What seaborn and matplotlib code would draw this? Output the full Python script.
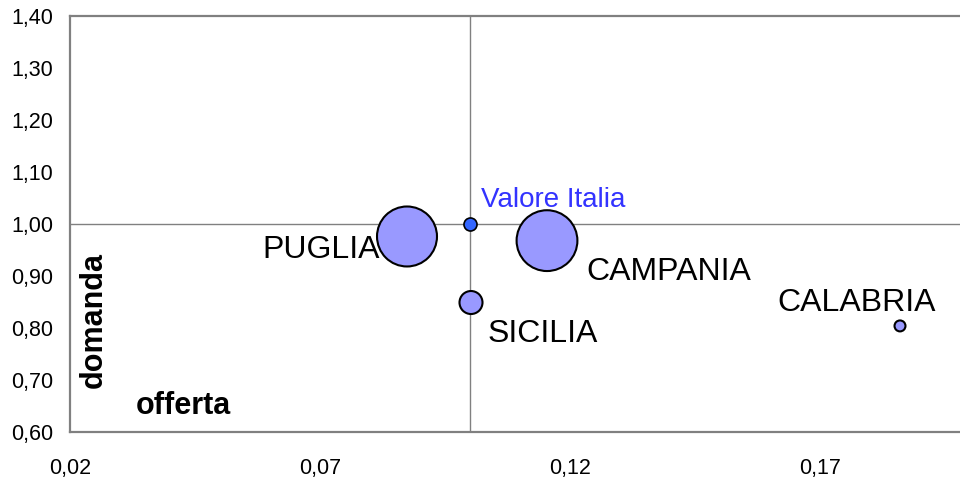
import matplotlib
matplotlib.use("Agg")
import matplotlib.pyplot as plt
import pandas as pd
import seaborn as sns

# Data
regioni = ["PUGLIA", "CAMPANIA", "SICILIA", "CALABRIA"]
offerta = [0.0874, 0.1154, 0.1002, 0.186]
domanda = [0.976, 0.968, 0.849, 0.804]
peso = [3.6, 3.7, 0.53, 0.12]

italia_x = [0.100]
italia_y = [1.000]
italia_peso = [0.17]

x_ticks = [0.02, 0.07, 0.12, 0.17]
y_ticks = [0.60, 0.70, 0.80, 0.90, 1.00, 1.10, 1.20, 1.30, 1.40]

df = pd.DataFrame({"regione": regioni, "offerta": offerta, "domanda": domanda, "peso": peso})
df_it = pd.DataFrame({"offerta": italia_x, "domanda": italia_y, "peso": italia_peso})

sns.set_style("white")
plt.rcParams["font.family"] = ["Liberation Sans", "DejaVu Sans"]
plt.rcParams["text.color"] = "black"

fig = plt.figure(figsize=(9.6, 4.83), dpi=100)
ax = fig.add_axes([70 / 960, 51 / 483, 890 / 960, 416 / 483])

# crossing lines at the Italian value
ax.axvline(0.10, color="#808080", lw=1, zorder=1)
ax.axhline(1.00, color="#808080", lw=1, zorder=1)

sns.scatterplot(data=df, x="offerta", y="domanda", size="peso", sizes=(0, 2072), size_norm=(0, 4),
                color="#9999FF", edgecolor="black", linewidth=1.5, legend=False, ax=ax, zorder=3)
sns.scatterplot(data=df_it, x="offerta", y="domanda", size="peso", sizes=(0, 2072), size_norm=(0, 4),
                color="#3366FF", edgecolor="black", linewidth=1.2, legend=False, ax=ax, zorder=3)

# labels next to bubbles (offsets in pixels)
offsets = {"PUGLIA": (-27, -14, "right"), "CAMPANIA": (39, -31, "left"),
           "SICILIA": (17, -31, "left"), "CALABRIA": (-43, 23, "center")}
for r, x, y in zip(regioni, offerta, domanda):
    dx, dy, ha = offsets[r]
    ax.annotate(r, (x, y), xytext=(dx, dy), textcoords="offset pixels",
                ha=ha, va="center", fontsize=23, color="black")
ax.annotate("Valore Italia", (italia_x[0], italia_y[0]), xytext=(11, 24), textcoords="offset pixels",
            ha="left", va="center", fontsize=20, color="#3333FF")

ax.text(0.0264, 0.269, "domanda", transform=ax.transAxes, rotation=90, ha="center", va="center",
        fontsize=22, fontweight="bold", color="black")
ax.text(0.127, 0.0625, "offerta", transform=ax.transAxes, ha="center", va="center",
        fontsize=22, fontweight="bold", color="black")

ax.set_xlim(0.02, 0.198)
ax.set_ylim(0.60, 1.40)
ax.set_xticks(x_ticks)
ax.set_yticks(y_ticks)
ax.set_xticklabels([f"{v:.2f}".replace(".", ",") for v in x_ticks])
ax.set_yticklabels([f"{v:.2f}".replace(".", ",") for v in y_ticks])
ax.tick_params(axis="both", length=0, labelsize=15.5, labelcolor="black")
ax.tick_params(axis="x", pad=19)
ax.tick_params(axis="y", pad=12)
ax.set_xlabel("")
ax.set_ylabel("")

for side in ["left", "top", "bottom"]:
    ax.spines[side].set_color("#808080")
    ax.spines[side].set_linewidth(1.6)
ax.spines["right"].set_visible(False)

fig.savefig("out.png", dpi=100)
